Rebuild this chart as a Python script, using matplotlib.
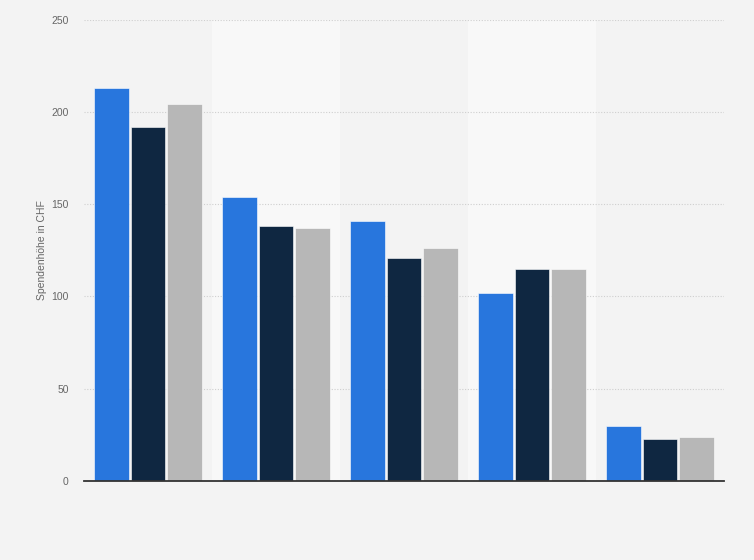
import matplotlib
matplotlib.use("Agg")
import matplotlib.pyplot as plt
import numpy as np

plt.rcParams["font.family"] = ["Liberation Sans", "DejaVu Sans"]

groups = ["1", "2", "3", "4", "5"]
series_a = [213, 154, 141, 102, 30]
series_b = [192, 138, 121, 115, 23]
series_c = [204, 137, 126, 115, 24]
colors = ["#2876dd", "#0f2741", "#b7b7b7"]
yticks = [0, 50, 100, 150, 200, 250]

W, H = 754, 560
fig = plt.figure(figsize=(W / 100, H / 100), dpi=100, facecolor="#f3f3f3")
ax = fig.add_axes([84 / W, (H - 481) / H, (724 - 84) / W, (481 - 19.5) / H])
ax.set_facecolor("#f3f3f3")

x = np.arange(len(groups))
for i in range(len(groups)):
    if i % 2 == 1:
        ax.axvspan(i - 0.5, i + 0.5, color="#f8f8f8", zorder=0, lw=0)

bw = 0.272
off = 0.287
for k, (vals, c) in enumerate(zip([series_a, series_b, series_c], colors)):
    ax.bar(x + (k - 1) * off, vals, width=bw, color=c, zorder=3,
           edgecolor="#ffffff", linewidth=0.4)

ax.set_xlim(-0.5, len(groups) - 0.5)
ax.set_ylim(0, 250)
ax.set_yticks(yticks)
ax.set_yticklabels([str(t) for t in yticks])
ax.set_xticks([])
ax.grid(axis="y", color="#cfcfcf", linestyle=(0, (1, 1.5)), linewidth=0.8, zorder=1)
for s in ["top", "right", "left"]:
    ax.spines[s].set_visible(False)
ax.spines["bottom"].set_color("#333333")
ax.spines["bottom"].set_linewidth(1.3)
ax.spines["bottom"].set_zorder(4)
ax.tick_params(axis="y", length=0, pad=11, labelsize=7.5, labelcolor="#666666")
ax.set_ylabel("Spendenhöhe in CHF", fontsize=7.5, color="#666666", labelpad=3)

fig.savefig("out.png", dpi=100, facecolor=fig.get_facecolor())
